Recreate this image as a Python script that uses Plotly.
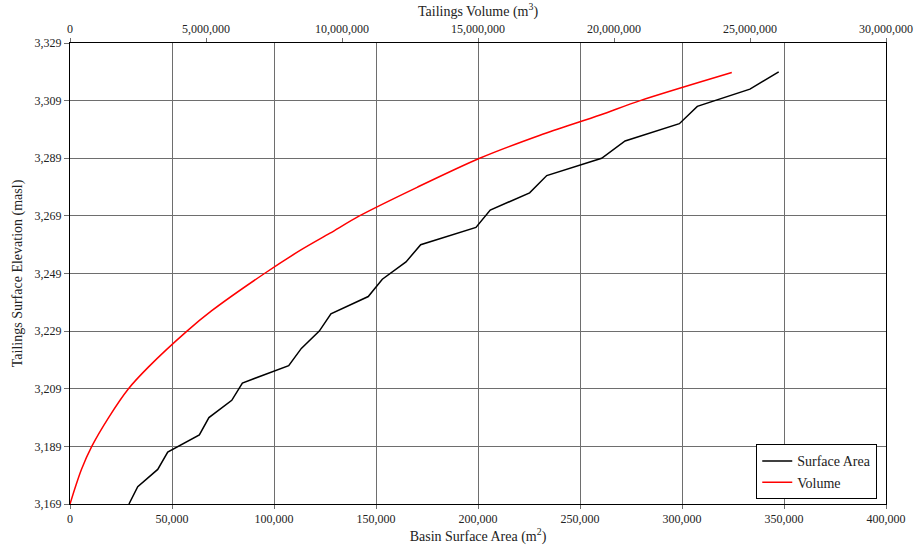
import plotly.graph_objects as go

# Surface area curve (elevation in masl, basin surface area in m2)
elev_area = [3169, 3175, 3181, 3187, 3193, 3199, 3205, 3211, 3217, 3223, 3229, 3235, 3241,
             3247, 3253, 3259, 3265, 3271, 3277, 3283, 3289, 3295, 3301, 3307, 3313, 3319]
surface_area = [28900, 33200, 43000, 47900, 63400, 68100, 79300, 84500, 107200, 113400,
                122200, 127900, 146200, 153100, 164700, 171900, 199000, 206000, 225300,
                233700, 260600, 272100, 298700, 307500, 333300, 347400]

# Volume curve (elevation in masl, tailings volume in m3)
elev_vol = [3169, 3175, 3181, 3189, 3199, 3209, 3216.5, 3229, 3236, 3249, 3257, 3263,
            3269, 3279, 3289, 3297, 3304, 3309, 3318.75]
volume = [0, 200000, 420000, 800000, 1420000, 2150000, 2880000, 4300000, 5200000, 7150000,
          8460000, 9560000, 10640000, 12780000, 15060000, 17280000, 19490000, 20960000, 24330000]

FONT = "Liberation Serif"
TXT = "#222222"
GRID = "#6e6e6e"

fig = go.Figure()
fig.add_trace(go.Scatter(x=surface_area, y=elev_area, mode="lines", name="Surface Area",
                         line=dict(color="black", width=1.5), xaxis="x", yaxis="y"))
fig.add_trace(go.Scatter(x=volume, y=elev_vol, mode="lines", name="Volume",
                         line=dict(color="red", width=1.5, shape="spline", smoothing=0.8),
                         xaxis="x2", yaxis="y"))

fig.update_layout(
    width=916, height=545,
    margin=dict(l=70, r=30, t=43, b=41, autoexpand=False),
    paper_bgcolor="white", plot_bgcolor="white",
    font=dict(family=FONT, size=12, color=TXT),
    xaxis=dict(range=[0, 400000], dtick=50000, tickformat=",", showgrid=True,
               gridcolor=GRID, gridwidth=1, zeroline=False, showline=True,
               linecolor="black", linewidth=1, mirror=False, ticks="outside",
               ticklen=4, tickcolor=GRID, automargin=False,
               tickfont=dict(size=12, family=FONT, color=TXT),
               title=dict(text="Basin Surface Area (m<sup>2</sup>)", standoff=4,
                          font=dict(size=14, family=FONT, color=TXT))),
    xaxis2=dict(range=[0, 30000000], dtick=5000000, tickformat=",", overlaying="x",
                side="top", showgrid=False, zeroline=False, showline=True,
                linecolor="black", linewidth=1, ticks="outside", ticklen=4,
                tickcolor=GRID, automargin=False,
                tickfont=dict(size=12, family=FONT, color=TXT),
                title=dict(text="Tailings Volume (m<sup>3</sup>)", standoff=2,
                           font=dict(size=14, family=FONT, color=TXT))),
    yaxis=dict(range=[3169, 3329], dtick=20, tick0=3169, tickformat=",", showgrid=True,
               gridcolor=GRID, gridwidth=1, zeroline=False, showline=True,
               linecolor="black", linewidth=1, mirror=True, ticks="outside", ticklen=5,
               tickcolor=GRID, automargin=False,
               tickfont=dict(size=12, family=FONT, color=TXT),
               title=dict(text="Tailings Surface Elevation (masl)", standoff=8,
                          font=dict(size=14, family=FONT, color=TXT))),
    legend=dict(x=0.841, y=0.01, xanchor="left", yanchor="bottom",
                bordercolor="black", borderwidth=1, bgcolor="white",
                font=dict(size=14, family=FONT, color=TXT), tracegroupgap=2),
    showlegend=True,
)

fig.write_html("out.html", config={"displayModeBar": False},
               post_script="document.body.style.margin='0';document.body.style.overflow='hidden';")
